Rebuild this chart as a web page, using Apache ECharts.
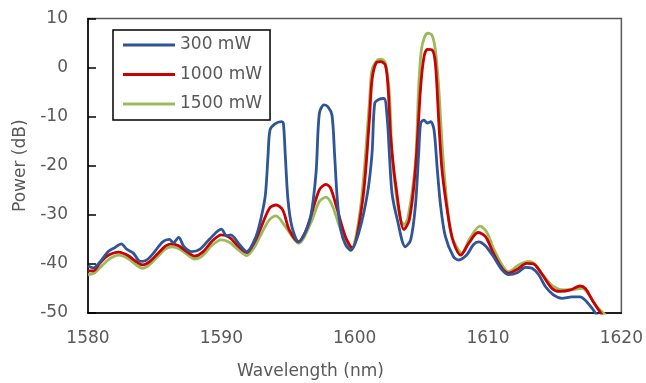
<!DOCTYPE html>
<html>
<head>
<meta charset="utf-8">
<script src="https://cdn.jsdelivr.net/npm/echarts@6/dist/echarts.min.js"></script>
<style>
html, body { margin: 0; padding: 0; background: #fff; }
#chart { width: 646px; height: 383px; }
</style>
</head>
<body>
<div id="chart"></div>
<script>
// series names / colours
const names = ['300 mW', '1000 mW', '1500 mW']
const colors = ['#2E5597', '#CC0000', '#9BBB59']

// 300 mW
const wl300 = [1580.0, 1580.4, 1580.9, 1581.5, 1582.0, 1582.5, 1582.9, 1583.4, 1583.8, 1584.1, 1584.5, 1585.0, 1585.6, 1586.1, 1586.4, 1586.8, 1587.2, 1587.8, 1588.4, 1589.1, 1590.0, 1590.4, 1590.7, 1591.4, 1591.9, 1592.6, 1593.0, 1593.3, 1593.5, 1593.65, 1594.0, 1594.5, 1594.65, 1594.8, 1595.0, 1595.3, 1595.8, 1596.3, 1596.7, 1597.1, 1597.35, 1597.7, 1598.0, 1598.3, 1598.5, 1598.7, 1598.96, 1599.3, 1599.7, 1600.3, 1600.96, 1601.3, 1601.5, 1601.8, 1602.2, 1602.45, 1602.6, 1602.8, 1603.2, 1603.8, 1604.2, 1604.55, 1604.8, 1604.95, 1605.2, 1605.45, 1605.7, 1605.95, 1606.2, 1606.45, 1606.8, 1607.4, 1607.8, 1608.4, 1608.9, 1609.3, 1609.8, 1610.4, 1611.05, 1611.55, 1612.2, 1612.8, 1613.3, 1613.8, 1614.3, 1614.9, 1615.55, 1616.3, 1616.9, 1617.4, 1617.9, 1618.3]
const p300 = [-40.4, -40.8, -39.6, -37.5, -36.7, -35.9, -37.0, -37.8, -39.3, -39.5, -39.0, -37.5, -35.5, -35.0, -35.7, -34.6, -36.5, -37.5, -37.0, -35.0, -32.9, -34.3, -34.1, -36.2, -37.5, -34.4, -30.4, -26, -18, -12.7, -11.5, -11.0, -11.3, -18.1, -27.0, -32.5, -35.5, -33.5, -30.4, -21.5, -9.3, -7.6, -8.0, -9.7, -18.1, -27, -33.1, -36, -37.2, -33.7, -25.6, -17.5, -7.3, -6.5, -6.3, -10.7, -17.5, -25.6, -31.0, -36.5, -35.1, -28.3, -17.5, -11.3, -10.7, -11.3, -11.0, -12.7, -20.9, -28.3, -34.4, -38.5, -39.2, -38.2, -36.1, -35.5, -36.3, -38.5, -41.2, -42.2, -41.8, -40.7, -40.9, -42.2, -44.6, -46.3, -47.0, -46.7, -46.7, -47.7, -49.4, -51]

// 1000 mW
const wl1000 = [1580.0, 1580.4, 1580.9, 1581.5, 1582.3, 1583.0, 1583.6, 1584.1, 1584.6, 1585.2, 1585.8, 1586.25, 1586.8, 1587.4, 1588.0, 1588.6, 1589.3, 1590.0, 1590.6, 1591.3, 1591.9, 1592.5, 1592.9, 1593.6, 1594.1, 1594.6, 1595.1, 1595.8, 1596.3, 1596.7, 1597.35, 1597.85, 1598.2, 1598.7, 1599.3, 1599.8, 1600.6, 1601.1, 1601.3, 1601.6, 1601.95, 1602.3, 1602.5, 1602.7, 1603.1, 1603.7, 1604.1, 1604.55, 1604.95, 1605.2, 1605.45, 1605.8, 1606.05, 1606.3, 1606.55, 1607.05, 1607.4, 1607.95, 1608.55, 1609.25, 1609.8, 1610.4, 1611.05, 1611.55, 1612.2, 1612.9, 1613.4, 1614.0, 1614.8, 1615.4, 1616.2, 1616.9, 1617.3, 1617.8, 1618.3, 1618.7]
const p1000 = [-41.4, -41.4, -39.8, -38.3, -37.6, -38.3, -39.5, -40.2, -39.6, -38.0, -36.4, -35.9, -36.3, -37.5, -38.4, -37.6, -35.4, -34.1, -34.6, -36.5, -37.7, -35.5, -33.1, -28.7, -28.0, -29.0, -33.1, -35.5, -33.5, -30.4, -24.9, -23.8, -24.6, -29.0, -34.4, -36.8, -27.0, -10.7, -2.5, 0.9, 1.2, 0.5, -3.9, -14.1, -24.3, -33.0, -31.0, -20.9, -3.9, 2.2, 3.7, 3.6, 0.9, -10.7, -20.9, -31.0, -35.5, -38.2, -35.8, -33.6, -34.4, -37.8, -40.9, -41.9, -41.1, -39.9, -40.0, -41.9, -45.0, -45.6, -45.3, -44.5, -45.0, -47.3, -49.4, -51]

// 1500 mW
const wl1500 = [1580.0, 1580.5, 1581.0, 1581.6, 1582.3, 1583.0, 1583.6, 1584.1, 1584.6, 1585.2, 1585.8, 1586.3, 1586.9, 1587.5, 1588.0, 1588.6, 1589.3, 1590.0, 1590.6, 1591.3, 1591.9, 1592.5, 1592.9, 1593.6, 1594.1, 1594.8, 1595.8, 1596.7, 1597.35, 1597.85, 1598.3, 1598.96, 1599.7, 1600.45, 1601.1, 1601.3, 1601.7, 1602.0, 1602.3, 1602.6, 1602.8, 1603.1, 1603.45, 1603.7, 1604.0, 1604.55, 1604.8, 1605.0, 1605.25, 1605.5, 1605.8, 1606.05, 1606.3, 1606.6, 1606.95, 1607.3, 1608.05, 1608.6, 1609.4, 1609.9, 1610.4, 1611.05, 1611.55, 1612.3, 1613.05, 1613.5, 1614.1, 1614.9, 1615.65, 1616.5, 1617.05, 1617.5, 1618.15, 1618.8, 1619.0]
const p1500 = [-42.2, -41.8, -40.5, -39.0, -38.2, -38.9, -40.2, -40.9, -40.2, -38.6, -37.0, -36.5, -37.0, -38.2, -39.0, -38.3, -36.2, -35.1, -35.6, -37.2, -38.3, -36.5, -34.4, -31.0, -30.2, -32.4, -35.8, -31.7, -27.3, -26.4, -28.0, -33.1, -37.3, -28.3, -7.3, -0.5, 1.5, 1.7, 0.9, -5.2, -17.5, -25.6, -31.0, -32.0, -30.5, -19.5, -3.9, 3.6, 6.3, 7.0, 6.6, 3.6, -3.9, -17.5, -28.3, -34.5, -37.8, -35.0, -32.3, -33.5, -36.8, -40.2, -41.6, -40.2, -39.5, -40.0, -42.2, -44.6, -45.3, -45.2, -45.0, -46.0, -48.7, -50.4, -51]

const xTicks = [1580, 1590, 1600, 1610, 1620]
const yTicks = [-50, -40, -30, -20, -10, 0, 10]

const zip = (xs, ys) => xs.map((x, i) => [x, ys[i]])
const font = 'DejaVu Sans'
const grey = '#595959'

const ec = echarts.init(document.getElementById('chart'))

function lineSeries (idx, xs, ys) {
    return {
        name: names[idx],
        type: 'line',
        data: zip(xs, ys),
        showSymbol: false,
        symbol: 'none',
        smooth: 0.3,
        clip: true,
        lineStyle: { width: 2.8, color: colors[idx] },
        itemStyle: { color: colors[idx] }
    }
}

ec.setOption({
    animation: false,
    grid: {
        left: 88, right: 23, top: 18.5, bottom: 70,
        show: true, borderColor: grey, borderWidth: 1.5
    },
    legend: {
        data: names,
        orient: 'vertical',
        left: 113, top: 30,
        icon: 'rect',
        itemWidth: 52, itemHeight: 3,
        itemGap: 11.5,
        padding: [6, 8, 7, 10],
        borderColor: '#000', borderWidth: 1.5,
        textStyle: { fontFamily: font, fontSize: 17, color: grey, lineHeight: 18 }
    },
    xAxis: {
        type: 'value',
        min: xTicks[0], max: xTicks[xTicks.length - 1], interval: 10,
        axisLine: { show: true, onZero: false, lineStyle: { color: '#000', width: 1.5 } },
        axisTick: { show: false },
        splitLine: { show: false },
        axisLabel: { fontFamily: font, fontSize: 17, color: grey, margin: 17, formatter: v => String(v) }
    },
    yAxis: {
        type: 'value',
        min: yTicks[0], max: yTicks[yTicks.length - 1], interval: 10,
        name: 'Power (dB)',
        nameLocation: 'middle',
        nameGap: 58,
        nameTextStyle: { fontFamily: font, fontSize: 17, color: grey },
        axisLine: { show: true, lineStyle: { color: '#000', width: 1.5 } },
        axisTick: { show: true, inside: true, length: 8, lineStyle: { color: '#000', width: 1.5 } },
        splitLine: { show: false },
        axisLabel: { fontFamily: font, fontSize: 17, color: grey, margin: 20 }
    },
    graphic: [{
        type: 'text',
        left: 237, top: 363,
        style: { text: 'Wavelength (nm)', font: '17px "DejaVu Sans"', fill: grey }
    }],
    series: [
        lineSeries(2, wl1500, p1500),
        lineSeries(1, wl1000, p1000),
        lineSeries(0, wl300, p300)
    ]
})
</script>
</body>
</html>
